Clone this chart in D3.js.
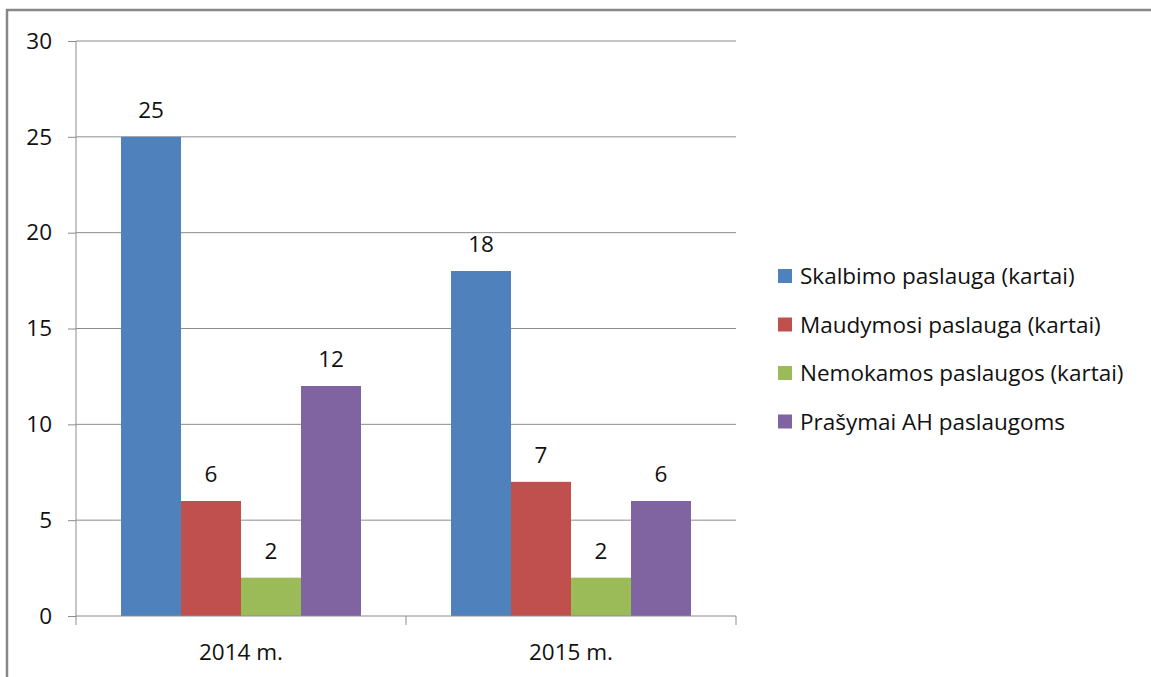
<!DOCTYPE html>
<html>
<head>
<meta charset="utf-8">
<script src="https://cdn.jsdelivr.net/npm/d3@7"></script>
<style>
  body { margin: 0; background: #fff; }
  svg text { font-family: "Open Sans", sans-serif; fill: #111; }
</style>
</head>
<body>
<svg id="chart"></svg>
<script>
// chart values
const categories = ['2014 m.', '2015 m.'];
const seriesNames = ['Skalbimo paslauga (kartai)', 'Maudymosi paslauga (kartai)', 'Nemokamos paslaugos (kartai)', 'Prašymai AH paslaugoms'];
const skalbimo = [25, 18];
const maudymosi = [6, 7];
const nemokamos = [2, 2];
const prasymai = [12, 6];
const yTicks = [0, 5, 10, 15, 20, 25, 30];

const colors = ['#4F81BD', '#C0504D', '#9BBB59', '#8064A2'];
const seriesValues = [skalbimo, maudymosi, nemokamos, prasymai];
const fontSize = '22.5px';

let svg = d3.select('#chart')
    .attr('width', 1151)
    .attr('height', 677),
  margin = {top: 41, left: 76},
  width = 660,
  height = 575;

// outer frame
svg.append('rect')
  .attr('x', 7).attr('y', 10)
  .attr('width', 1160).attr('height', 700)
  .attr('fill', 'none')
  .attr('stroke', '#888')
  .attr('stroke-width', 2.5);

let viewport = svg.append('g')
  .attr('transform', 'translate(' + margin.left + ',' + margin.top + ')');

let xScale = d3.scaleBand()
  .domain(categories)
  .range([0, width]);

let xInner = d3.scaleBand()
  .domain(d3.range(seriesNames.length))
  .range([0, xScale.bandwidth()])
  .paddingOuter(0.75);

let yScale = d3.scaleLinear()
  .domain([0, 30])
  .range([height, 0]);

// gridlines
viewport.append('g')
  .selectAll('line')
  .data(yTicks.filter(d => d > 0))
  .enter().append('line')
  .attr('x1', 0).attr('x2', width)
  .attr('y1', d => yScale(d)).attr('y2', d => yScale(d))
  .attr('stroke', '#8c8c8c')
  .attr('stroke-width', 1);

// bars
let groups = viewport.append('g')
  .selectAll('g')
  .data(categories)
  .enter().append('g')
  .attr('transform', d => 'translate(' + xScale(d) + ',0)');

groups.selectAll('rect')
  .data((c, i) => seriesValues.map((vals, s) => ({s: s, v: vals[i]})))
  .enter().append('rect')
  .attr('x', d => xInner(d.s))
  .attr('width', xInner.bandwidth())
  .attr('y', d => yScale(d.v))
  .attr('height', d => height - yScale(d.v))
  .attr('fill', d => colors[d.s]);

groups.selectAll('text')
  .data((c, i) => seriesValues.map((vals, s) => ({s: s, v: vals[i]})))
  .enter().append('text')
  .attr('x', d => xInner(d.s) + xInner.bandwidth() / 2)
  .attr('y', d => yScale(d.v) - 19)
  .attr('text-anchor', 'middle')
  .style('font-size', fontSize)
  .text(d => d.v);

// y axis
let yAxis = d3.axisLeft(yScale)
  .tickValues(yTicks)
  .tickSize(8)
  .tickPadding(16);

let yg = viewport.append('g').call(yAxis);
yg.selectAll('line, path').attr('stroke', '#8c8c8c');
yg.select('.domain').attr('d', 'M0,0V' + height);
yg.selectAll('text')
  .style('font-size', fontSize)
  .style('font-family', '"Open Sans", sans-serif')
  .attr('fill', '#111');

// x axis
let xg = viewport.append('g')
  .attr('transform', 'translate(0,' + height + ')');
xg.append('line')
  .attr('x1', 0).attr('x2', width)
  .attr('stroke', '#8c8c8c');
xg.selectAll('.tick')
  .data([0, width / 2, width])
  .enter().append('line')
  .attr('x1', d => d).attr('x2', d => d)
  .attr('y1', 0).attr('y2', 9)
  .attr('stroke', '#8c8c8c');
xg.selectAll('text')
  .data(categories)
  .enter().append('text')
  .attr('x', d => xScale(d) + xScale.bandwidth() / 2)
  .attr('y', 44)
  .attr('text-anchor', 'middle')
  .style('font-size', fontSize)
  .text(d => d);

// legend
let legend = svg.append('g')
  .attr('transform', 'translate(778,276)');
let items = legend.selectAll('g')
  .data(seriesNames)
  .enter().append('g')
  .attr('transform', (d, i) => 'translate(0,' + (i * 48.5) + ')');
items.append('rect')
  .attr('x', 0).attr('y', -7)
  .attr('width', 14).attr('height', 14)
  .attr('fill', (d, i) => colors[i]);
items.append('text')
  .attr('x', 22)
  .attr('y', 8)
  .style('font-size', fontSize)
  .text(d => d);
</script>
</body>
</html>
